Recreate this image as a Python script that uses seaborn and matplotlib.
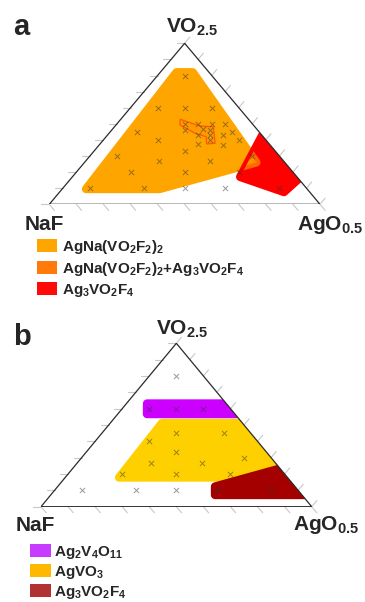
import numpy as np
import pandas as pd
import matplotlib
matplotlib.use("Agg")
import matplotlib.pyplot as plt
import seaborn as sns
from matplotlib.patches import Polygon, Patch

sns.set_style("white")
plt.rcParams['font.family'] = ['Liberation Sans', 'DejaVu Sans']
plt.rcParams['font.weight'] = 'bold'
plt.rcParams['mathtext.fontset'] = 'custom'
plt.rcParams['mathtext.rm'] = 'Liberation Sans:bold'
plt.rcParams['mathtext.it'] = 'Liberation Sans:bold'
plt.rcParams['mathtext.bf'] = 'Liberation Sans:bold'

# compositions as (VO2.5 fraction, AgO0.5 fraction); NaF = remainder
# panel a synthesis points
a_v = [0.8, 0.6, 0.6, 0.6, 0.5, 0.5, 0.5, 0.5, 0.46, 0.465, 0.46, 0.43, 0.40, 0.43, 0.43,
       0.45, 0.40, 0.37, 0.373, 0.45, 0.4, 0.333, 0.3, 0.27, 0.27, 0.2, 0.2, 0.2, 0.3,
       0.1, 0.1, 0.1, 0.1, 0.1]
a_ag = [0.1, 0.1, 0.2, 0.3, 0.25, 0.3, 0.35, 0.4, 0.27, 0.336, 0.365, 0.38, 0.395, 0.333, 0.426,
        0.45, 0.50, 0.458, 0.364, 0.1, 0.2, 0.333, 0.1, 0.27, 0.46, 0.2, 0.4, 0.6, 0.6,
        0.1, 0.3, 0.45, 0.6, 0.8]

# panel b synthesis points
b_v = [0.8, 0.6, 0.6, 0.6, 0.45, 0.45, 0.4, 0.333, 0.27, 0.27, 0.3, 0.2, 0.2, 0.2,
       0.1, 0.1, 0.1, 0.1, 0.1]
b_ag = [0.1, 0.1, 0.2, 0.3, 0.275, 0.45, 0.2, 0.333, 0.27, 0.46, 0.6, 0.2, 0.4, 0.6,
        0.1, 0.3, 0.45, 0.6, 0.8]

# phase regions (polygon corners before rounding)
orange_v = [0.82, 0.82, 0.26, 0.095, 0.095]
orange_ag = [0.06, 0.12, 0.635, 0.36, 0.088]
red_v = [0.17, 0.473, 0.244, 0.076]
red_ag = [0.62, 0.564, 0.856, 0.829]
mix_v = [0.528, 0.486, 0.482, 0.379, 0.3745, 0.42, 0.441, 0.4925]
mix_ag = [0.219, 0.314, 0.365, 0.423, 0.394, 0.369, 0.318, 0.237]

purple_v = [0.6316, 0.6316, 0.567, 0.567]
purple_ag = [0.076, 0.493, 0.526, 0.108]
yellow_v = [0.512, 0.512, 0.1787, 0.1787]
yellow_ag = [0.191, 0.59, 0.8675, 0.199]
darkred_v = [0.1236, 0.2674, 0.0716, 0.0716]
darkred_ag = [0.581, 0.823, 0.995, 0.607]

legend_a = [r'AgNa(VO$_2$F$_2$)$_2$', r'AgNa(VO$_2$F$_2$)$_2$+Ag$_3$VO$_2$F$_4$', r'Ag$_3$VO$_2$F$_4$']
legend_a_col = ['#FFA500', '#FF7A0A', '#FF0A0A']
legend_b = [r'Ag$_2$V$_4$O$_{11}$', r'AgVO$_3$', r'Ag$_3$VO$_2$F$_4$']
legend_b_col = ['#C83CFF', '#FFB800', '#B03232']

FW, FH = 365, 602
fig = plt.figure(figsize=(FW / 100, FH / 100), dpi=100)


def to_xy(v, ag):
    v = np.asarray(v)
    ag = np.asarray(ag)
    return np.column_stack([ag + v / 2, v])


def region(ax, v, ag, color, clip=None, lw=6, alpha=1.0, z=1):
    p = Polygon(to_xy(v, ag), closed=True, facecolor=color, edgecolor=color,
                lw=lw, joinstyle='round', alpha=alpha, zorder=z)
    ax.add_patch(p)
    if clip is not None:
        p.set_clip_path(clip)
    return p


def ternary_frame(ax):
    tri = Polygon([[0, 0], [0.5, 1], [1, 0]], closed=True, fill=False,
                  edgecolor='#2a2a2a', lw=0.9, zorder=5)
    ax.add_patch(tri)
    pos = ax.get_position()
    wpx, hpx = pos.width * FW, pos.height * FH
    L = 8
    for k in range(11):
        f = k / 10
        # left side ticks (horizontal)
        x0, y0 = f / 2, f
        ax.plot([x0, x0 - L / wpx], [y0, y0], color='#c8c8c8', lw=0.8, clip_on=False, zorder=0)
        # bottom ticks
        x0, y0 = f, 0
        ax.plot([x0, x0 + 0.65 * L / wpx], [y0, y0 - 0.76 * L / hpx], color='#c8c8c8', lw=0.8,
                clip_on=False, zorder=0)
        # right side ticks
        x0, y0 = 1 - f / 2, f
        ax.plot([x0, x0 + 0.64 * L / wpx], [y0, y0 + 0.77 * L / hpx], color='#c8c8c8', lw=0.8,
                clip_on=False, zorder=0)
    ax.set_xlim(0, 1)
    ax.set_ylim(0, 1)
    ax.axis('off')
    return tri


def points(ax, v, ag):
    xy = to_xy(v, ag)
    df = pd.DataFrame({'x': xy[:, 0], 'y': xy[:, 1]})
    sns.scatterplot(data=df, x='x', y='y', marker='x', color='#333333', alpha=0.5,
                    s=14, linewidth=0.7, ax=ax, zorder=6, legend=False, clip_on=False)


def corner_labels(ax, top, left, right):
    ax.text(top[0], top[1], r'VO$_{2.5}$', ha='center', va='baseline', fontsize=15)
    ax.text(left[0], left[1], 'NaF', ha='center', va='baseline', fontsize=15)
    ax.text(right[0], right[1], r'AgO$_{0.5}$', ha='center', va='baseline', fontsize=15)


# ---- panel a
ax1 = fig.add_axes([49.3 / FW, (FH - 204.3) / FH, 270.7 / FW, 161 / FH])
tri1 = ternary_frame(ax1)
region(ax1, orange_v, orange_ag, '#FFA500', z=1)
red_patch = region(ax1, red_v, red_ag, '#FF0000', clip=tri1, z=2)
ov = region(ax1, orange_v, orange_ag, '#FFA500', alpha=0.65, z=3)
ov.set_clip_path(red_patch)
mix = Polygon(to_xy(mix_v, mix_ag), closed=True, facecolor='#FF9A00', edgecolor='#FF5A00',
              lw=0.9, zorder=4)
ax1.add_patch(mix)
points(ax1, a_v, a_ag)
corner_labels(ax1, (0.527, 1.064), (-0.02, -0.16), (1.037, -0.16))
ax1.legend(handles=[Patch(facecolor=c, edgecolor='none', label=l) for l, c in zip(legend_a, legend_a_col)],
           loc='upper left', bbox_to_anchor=(37 / FW, (FH - 238) / FH), bbox_transform=fig.transFigure,
           frameon=False, fontsize=11, handlelength=1.3, handleheight=0.95, handletextpad=0.35,
           labelspacing=0.25, borderaxespad=0, borderpad=0)
fig.text(13 / FW, (FH - 35) / FH, 'a', fontsize=21, ha='left', va='baseline')

# ---- panel b
ax2 = fig.add_axes([41 / FW, (FH - 506.7) / FH, 270.7 / FW, 163.4 / FH])
tri2 = ternary_frame(ax2)
region(ax2, yellow_v, yellow_ag, '#FFD000', clip=tri2, z=1)
region(ax2, purple_v, purple_ag, '#CC00FF', clip=tri2, z=2)
region(ax2, darkred_v, darkred_ag, '#A50000', clip=tri2, z=2)
points(ax2, b_v, b_ag)
corner_labels(ax2, (0.523, 1.051), (-0.022, -0.15), (1.053, -0.143))
ax2.legend(handles=[Patch(facecolor=c, edgecolor='none', label=l) for l, c in zip(legend_b, legend_b_col)],
           loc='upper left', bbox_to_anchor=(30 / FW, (FH - 544) / FH), bbox_transform=fig.transFigure,
           frameon=False, fontsize=11, handlelength=1.4, handleheight=0.95, handletextpad=0.2,
           labelspacing=0.2, borderaxespad=0, borderpad=0)
fig.text(13 / FW, (FH - 345) / FH, 'b', fontsize=21, ha='left', va='baseline')

fig.savefig('out.png', dpi=100)
